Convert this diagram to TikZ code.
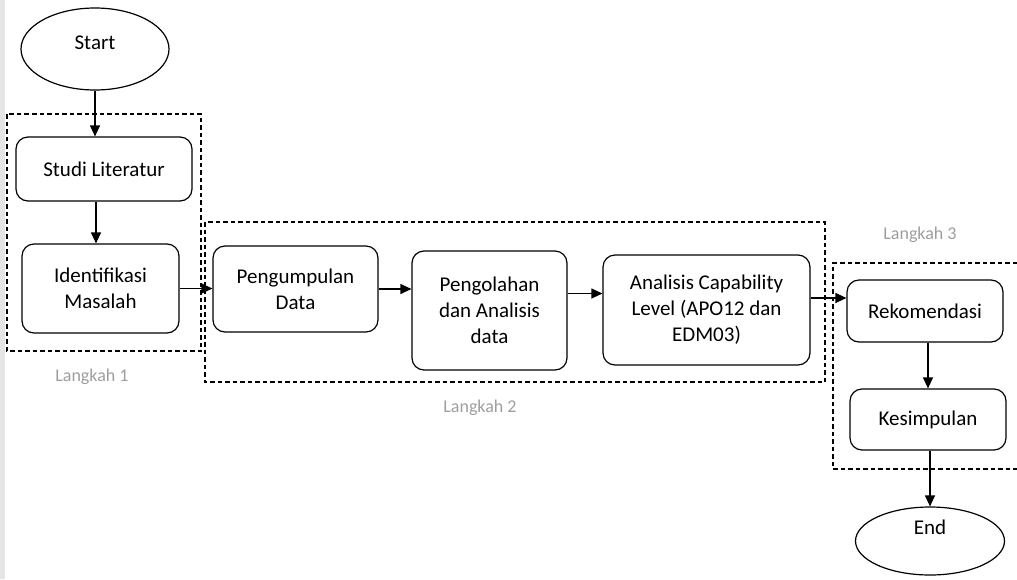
\documentclass[tikz,border=0pt]{standalone}
\usepackage{fontspec}
\setmainfont{Carlito}
\usetikzlibrary{arrows.meta,shapes.geometric}

\begin{document}
\begin{tikzpicture}[x=1pt, y=-1pt, >={Triangle[length=11pt,width=10pt]}, line width=1.2pt,
  font=\fontsize{21}{26}\selectfont,
  stepbox/.style={draw, rounded corners=12pt, align=center, inner sep=0pt},
  terminal/.style={draw, ellipse, inner sep=0pt, text depth=12pt},
  phase/.style={draw, dash pattern=on 4.5pt off 3pt, line width=1.1pt},
  phaselabel/.style={text=black!38, font=\fontsize{18}{22}\selectfont}]

  % Frame of the page
  \useasboundingbox (0,0) rectangle (1017,579);
  \fill[black!10] (0,0) rectangle (5,579);

  % Start and end
  \node[terminal, minimum width=148pt, minimum height=82pt] (start) at (95,49) {Start};
  \node[terminal, minimum width=149pt, minimum height=68pt, text depth=28pt] (finish) at (930,541) {End};

  % Steps
  \node[stepbox, minimum width=176pt, minimum height=64pt] (studi) at (104,169) {Studi Literatur};
  \node[stepbox, minimum width=157pt, minimum height=89pt] (ident) at (100.5,288.5) {Identifikasi\\Masalah};
  \node[stepbox, minimum width=165pt, minimum height=86pt] (kumpul) at (295.5,289) {Pengumpulan\\Data};
  \node[stepbox, minimum width=155pt, minimum height=119pt] (olah) at (489.5,310.5) {Pengolahan\\dan Analisis\\data};
  \node[stepbox, minimum width=207pt, minimum height=110pt] (analisis) at (706.5,310) {Analisis Capability\\Level (APO12 dan\\EDM03)};
  \node[stepbox, minimum width=156pt, minimum height=62pt] (rekom) at (925,311) {Rekomendasi};
  \node[stepbox, minimum width=156pt, minimum height=61pt] (simpul) at (928,419.5) {Kesimpulan};

  % Dashed phase frames
  \draw[phase] (7,114) rectangle (201,351);
  \draw[phase] (205,222) rectangle (825,382);
  \draw[phase] (1017,263) -- (833,263) -- (833,469) -- (1017,469);

  % Phase labels
  \node[phaselabel] (lk1) at (92,377) {Langkah 1};
  \node[phaselabel] (lk2) at (480,408) {Langkah 2};
  \node[phaselabel] (lk3) at (920,235) {Langkah 3};

  % Flow arrows
  \draw[->] (start.south) -- (start.south |- studi.north);
  \draw[->] ([xshift=-8pt]studi.south) -- ([xshift=-8pt]studi.south |- ident.north);
  \draw[->] (ident.east) -- (ident.east -| kumpul.west);
  \draw[->] (kumpul.east) -- (kumpul.east -| olah.west);
  \draw[->] ([yshift=17pt]olah.east) -- ([yshift=17pt]olah.east -| analisis.west);
  \draw[->] ([yshift=12pt]analisis.east) -- ([yshift=12pt]analisis.east -| rekom.west);
  \draw[->] ([xshift=3pt]rekom.south) -- ([xshift=3pt]rekom.south |- simpul.north);
  \draw[->] ([xshift=2pt]simpul.south) -- ([xshift=2pt]simpul.south |- finish.north);

\end{tikzpicture}
\end{document}
